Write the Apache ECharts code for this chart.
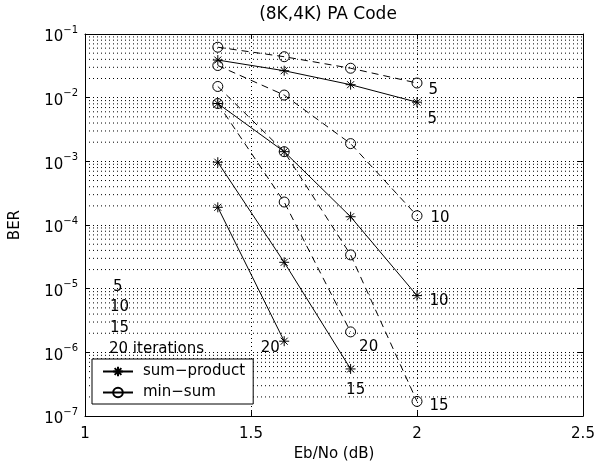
<!DOCTYPE html>
<html>
<head>
<meta charset="utf-8">
<script src="https://cdn.jsdelivr.net/npm/echarts@6/dist/echarts.min.js"></script>
<style>
  html, body { margin: 0; padding: 0; background: #fff; }
  #chart { width: 607px; height: 467px; }
</style>
</head>
<body>
<div id="chart"></div>
<script>
// Eb/No (dB) 取值
const ebNo = [1.4, 1.6, 1.8, 2.0]

// sum-product（实线 *）
const sp5 = [0.039, 0.0265, 0.016, 0.0085]
const sp10 = [0.0081, 0.00142, 0.000135, 0.0000078]
const sp15 = [0.00097, 0.000026, 0.00000055]
const sp20 = [0.00019, 0.0000015]

// min-sum（虚线 o）
const ms5 = [0.062, 0.044, 0.029, 0.017]
const ms10 = [0.032, 0.011, 0.0019, 0.00014]
const ms15 = [0.015, 0.00142, 0.000034, 0.00000017]
const ms20 = [0.0081, 0.00023, 0.0000021]

// 曲线末端的迭代次数标注
const endTexts = ['5', '10', '15', '20']
const noteLines = ['5', '10', '15', '20 iterations']
const xTicks = [1, 1.5, 2, 2.5]

const FONT = 'DejaVu Sans'
const STAR = 'path://M5,0L5,10M0,5L10,5M1.5,1.5L8.5,8.5M1.5,8.5L8.5,1.5'

// 标注偏移（相对最后一个点）
const spOffsets = [[5, 17], [7, 6], [-10, 21], [-29, 7]]
const msOffsets = [[6, 7], [8, 2], [7, 5], [3, 15]]

// 次网格线 2..9 x 10^k
const minorGrid = []
for (let e = -7; e <= -2; e++) {
  for (let m = 2; m <= 9; m++) minorGrid.push(m * Math.pow(10, e))
}

function buildData (values, text, offset) {
  return values.map((v, i) => {
    if (i !== values.length - 1) return [ebNo[i], v]
    return {
      value: [ebNo[i], v],
      label: {
        show: true,
        position: 'right',
        distance: 0,
        offset: offset,
        formatter: text,
        fontFamily: FONT,
        fontSize: 15,
        color: '#000'
      }
    }
  })
}

const series = []

// 次网格线：每条两端点，中间用 '-' 断开
const gridData = []
minorGrid.forEach(v => {
  gridData.push([1, v], [2.5, v], [2.5, '-'])
})
series.push({
  type: 'line',
  data: gridData,
  symbol: 'none',
  silent: true,
  connectNulls: false,
  lineStyle: { color: '#000', width: 1, type: [1, 3] },
  emphasis: { disabled: true },
  z: 1
})

;[sp5, sp10, sp15, sp20].forEach((arr, i) => {
  series.push({
    name: 'sum−product',
    type: 'line',
    data: buildData(arr, endTexts[i], spOffsets[i]),
    symbol: STAR,
    symbolSize: 10,
    showAllSymbol: true,
    itemStyle: { color: '#000', borderColor: '#000', borderWidth: 1 },
    lineStyle: { color: '#000', width: 1, type: 'solid' },
    emphasis: { disabled: true },
    z: 3
  })
})
;[ms5, ms10, ms15, ms20].forEach((arr, i) => {
  series.push({
    name: 'min−sum',
    type: 'line',
    data: buildData(arr, endTexts[i], msOffsets[i]),
    symbol: 'circle',
    symbolSize: 10,
    itemStyle: { color: 'rgba(0,0,0,0)', borderColor: '#000', borderWidth: 1 },
    lineStyle: { color: '#000', width: 1, type: [7, 5] },
    emphasis: { disabled: true },
    z: 3
  })
})

const axisLineStyle = { show: true, onZero: false, lineStyle: { color: '#000', width: 1 } }
const tickStyle = { show: true, inside: true, length: 5, lineStyle: { color: '#000' } }

const option = {
  animation: false,
  backgroundColor: '#fff',
  grid: { left: 74, right: 24, top: 34, bottom: 47 },
  xAxis: [
    {
      type: 'value',
      min: 1,
      max: 2.5,
      interval: 0.5,
      name: 'Eb/No (dB)',
      nameLocation: 'middle',
      nameGap: 25,
      nameTextStyle: { fontFamily: FONT, fontSize: 15, color: '#000' },
      axisLine: axisLineStyle,
      axisTick: tickStyle,
      axisLabel: {
        margin: 11,
        fontFamily: FONT,
        fontSize: 15,
        color: '#000',
        formatter: v => xTicks.indexOf(v) !== -1 ? String(v) : ''
      },
      splitLine: { show: true, lineStyle: { color: '#000', width: 1, type: [1, 3] } }
    },
    {
      type: 'value',
      position: 'top',
      min: 1,
      max: 2.5,
      interval: 0.5,
      axisLine: axisLineStyle,
      axisTick: tickStyle,
      axisLabel: { show: false },
      splitLine: { show: false }
    }
  ],
  yAxis: [
    {
      type: 'log',
      logBase: 10,
      min: 1e-7,
      max: 1e-1,
      splitNumber: 6,
      name: 'BER',
      nameLocation: 'middle',
      nameGap: 62,
      nameTextStyle: { fontFamily: FONT, fontSize: 15, color: '#000' },
      axisLine: axisLineStyle,
      axisTick: tickStyle,
      axisLabel: {
        margin: 7,
        formatter: v => '{b|10}{s|−' + Math.round(-Math.log10(v)) + '}',
        rich: {
          b: { fontFamily: FONT, fontSize: 15, color: '#000', padding: [7, 0, 0, 0] },
          s: { fontFamily: FONT, fontSize: 10, color: '#000', padding: [0, 0, 8, 0] }
        }
      },
      splitLine: { show: true, lineStyle: { color: '#000', width: 1, type: [1, 3] } }
    },
    {
      type: 'log',
      logBase: 10,
      min: 1e-7,
      max: 1e-1,
      splitNumber: 6,
      position: 'right',
      axisLine: axisLineStyle,
      axisTick: tickStyle,
      axisLabel: { show: false },
      splitLine: { show: false }
    }
  ],
  legend: {
    orient: 'vertical',
    left: 92,
    top: 359,
    padding: [5, 8, 4, 10],
    itemWidth: 30,
    itemHeight: 12,
    itemGap: 6,
    borderColor: '#000',
    borderWidth: 1,
    backgroundColor: '#fff',
    selectedMode: false,
    textStyle: { fontFamily: FONT, fontSize: 15, color: '#000', padding: [0, 0, 0, 5] },
    data: [
      { name: 'sum−product' },
      { name: 'min−sum', lineStyle: { type: 'solid' } }
    ]
  },
  graphic: [
    {
      type: 'text',
      x: 328,
      y: 15,
      style: { text: '(8K,4K) PA Code', font: '17px "' + FONT + '"', fill: '#000', align: 'center', verticalAlign: 'middle' }
    }
  ].concat(noteLines.map((t, i) => ({
    type: 'text',
    x: [113, 110, 110, 109][i],
    y: [287, 307, 328, 349][i],
    style: { text: t, font: '15px "' + FONT + '"', fill: '#000', verticalAlign: 'middle' }
  }))),
  series: series
}

const myChart = echarts.init(document.getElementById('chart'))
myChart.setOption(option)
</script>
</body>
</html>
